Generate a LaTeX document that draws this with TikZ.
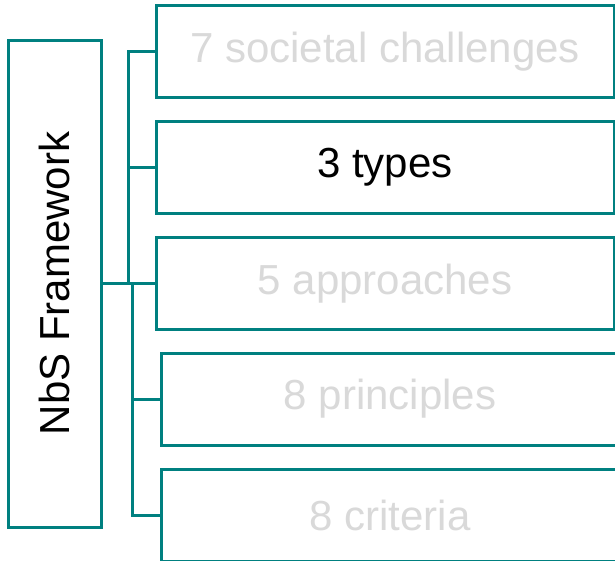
\documentclass[tikz,border=0pt]{standalone}
\usepackage{fontspec}
\setmainfont{Liberation Sans}
\definecolor{tealline}{RGB}{0,128,128}
\definecolor{fadetext}{RGB}{217,217,217}
\tikzset{
  box/.style={draw=tealline, line width=3pt, fill=white, inner sep=0pt,
    minimum width=458pt, minimum height=92pt, font=\fontsize{42}{48}\selectfont},
  faded/.style={text=fadetext},
  conn/.style={draw=tealline, line width=3pt}
}
\begin{document}
\begin{tikzpicture}[x=1pt,y=-1pt]
\useasboundingbox (0,0) rectangle (615,560);
\clip (0,0) rectangle (615,560);
\fill[white] (0,0) rectangle (615,560);
\node[box, minimum width=93pt, minimum height=487pt] (fw) at (54.5,283.5)
  {\rotatebox{90}{NbS Framework}};
\node[box, faded] (b1) at (385,51.5) {7 societal challenges};
\node[box] (b2) at (385,167) {3 types};
\node[box, faded] (b3) at (385,283.5) {5 approaches};
\node[box, faded] (b4) at (390,399) {8 principles};
\node[box, faded] (b5) at (390,515) {8 criteria};
\coordinate (ju) at (128,283.5);
\coordinate (jl) at (132,283.5);
\draw[conn] (fw.east) -- (b3.west);
\draw[conn] (b1.west) -| (ju);
\draw[conn] (b2.west) -| (ju);
\draw[conn] (b4.west) -| (jl);
\draw[conn] (b5.west) -| (jl);
\end{tikzpicture}
\end{document}
